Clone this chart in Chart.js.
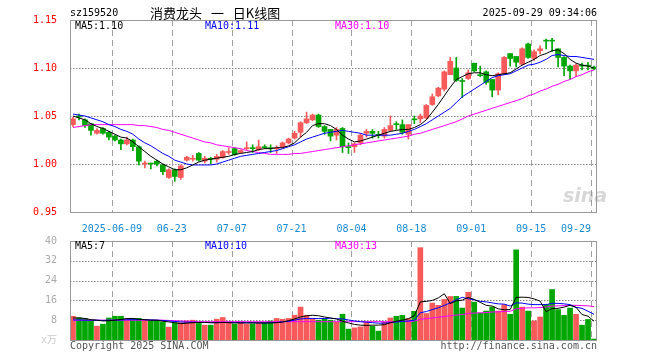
<!DOCTYPE html>
<html>
<head>
<meta charset="utf-8">
<script src="https://cdn.jsdelivr.net/npm/chart.js@4.4.1/dist/chart.umd.min.js"></script>
<style>
body { margin: 0; background: #fff; }
#wrap { position: relative; width: 660px; height: 360px; font-family: "DejaVu Sans Mono", monospace; font-size: 10px; }
canvas { position: absolute; left: 0; }
.t { position: absolute; white-space: pre; line-height: 12px; }
</style>
</head>
<body>
<div id="wrap">
  <canvas id="kline" width="660" height="232" style="top:0px"></canvas>
  <canvas id="vol" width="660" height="130" style="top:230px"></canvas>

  <div class="t" style="left:70px;top:7px;color:#000">sz159520</div>
  <div class="t" style="left:150px;top:4px;font-family:'Noto Sans CJK SC';font-size:13px;line-height:18px;word-spacing:6px;color:#000">消费龙头 一 日K线图</div>
  <div class="t" style="right:63px;top:7px;color:#000">2025-09-29 09:34:06</div>

  <div class="t" style="left:75px;top:20px;color:#000">MA5:1.10</div>
  <div class="t" style="left:205px;top:20px;color:#0000ff">MA10:1.11</div>
  <div class="t" style="left:335px;top:20px;color:#ff00ff">MA30:1.10</div>

  <div class="t" style="left:75px;top:240px;color:#000">MA5:7</div>
  <div class="t" style="left:205px;top:240px;color:#0000ff">MA10:10</div>
  <div class="t" style="left:335px;top:240px;color:#ff00ff">MA30:13</div>

  <div class="t" style="left:563px;top:184px;font-family:'DejaVu Sans';font-weight:bold;font-style:italic;font-size:19px;line-height:22px;color:rgba(140,140,140,0.35)">sina</div>

  <div class="t" style="left:70px;top:340px;color:#555">Copyright 2025 SINA.COM</div>
  <div class="t" style="right:63px;top:340px;color:#555">http://finance.sina.com.cn</div>
</div>

<script>
// trading days shown
var dates = [
  '2025-05-28','2025-05-29','2025-05-30','2025-06-03','2025-06-04','2025-06-05','2025-06-06',
  '2025-06-09','2025-06-10','2025-06-11','2025-06-12','2025-06-13',
  '2025-06-16','2025-06-17','2025-06-18','2025-06-19','2025-06-20',
  '2025-06-23','2025-06-24','2025-06-25','2025-06-26','2025-06-27',
  '2025-06-30','2025-07-01','2025-07-02','2025-07-03','2025-07-04',
  '2025-07-07','2025-07-08','2025-07-09','2025-07-10','2025-07-11',
  '2025-07-14','2025-07-15','2025-07-16','2025-07-17','2025-07-18',
  '2025-07-21','2025-07-22','2025-07-23','2025-07-24','2025-07-25',
  '2025-07-28','2025-07-29','2025-07-30','2025-07-31','2025-08-01',
  '2025-08-04','2025-08-05','2025-08-06','2025-08-07','2025-08-08',
  '2025-08-11','2025-08-12','2025-08-13','2025-08-14','2025-08-15',
  '2025-08-18','2025-08-19','2025-08-20','2025-08-21','2025-08-22',
  '2025-08-25','2025-08-26','2025-08-27','2025-08-28','2025-08-29',
  '2025-09-01','2025-09-02','2025-09-03','2025-09-04','2025-09-05',
  '2025-09-08','2025-09-09','2025-09-10','2025-09-11','2025-09-12',
  '2025-09-15','2025-09-16','2025-09-17','2025-09-18','2025-09-19',
  '2025-09-22','2025-09-23','2025-09-24','2025-09-25','2025-09-26',
  '2025-09-29'
];
var tickDays = ['2025-06-09','2025-06-23','2025-07-07','2025-07-21','2025-08-04',
                '2025-08-18','2025-09-01','2025-09-15','2025-09-29'];

var open = [
  1.041,1.050,1.046,1.042,1.032,1.037,1.033,1.029,1.025,1.021,
  1.025,1.018,1.000,1.001,1.003,0.999,0.986,0.994,0.986,1.004,
  1.005,1.011,1.003,1.006,1.005,1.007,1.012,1.016,1.012,1.016,
  1.017,1.015,1.018,1.017,1.016,1.018,1.022,1.027,1.033,1.043,
  1.046,1.051,1.039,1.036,1.030,1.037,1.018,1.018,1.022,1.032,
  1.034,1.031,1.029,1.035,1.042,1.041,1.031,1.047,1.047,1.048,
  1.062,1.071,1.078,1.093,1.100,1.087,1.089,1.105,1.093,1.096,
  1.088,1.077,1.094,1.115,1.112,1.104,1.125,1.110,1.118,1.129,
  1.129,1.120,1.111,1.102,1.097,1.103,1.103,1.101
];
var high = [
  1.049,1.052,1.047,1.042,1.037,1.038,1.034,1.030,1.026,1.028,
  1.026,1.019,1.003,1.001,1.004,1.000,0.995,0.995,0.999,1.008,
  1.009,1.012,1.008,1.007,1.010,1.014,1.017,1.017,1.015,1.023,
  1.020,1.025,1.020,1.020,1.019,1.023,1.027,1.034,1.044,1.054,
  1.052,1.052,1.040,1.036,1.038,1.038,1.022,1.022,1.032,1.036,
  1.036,1.034,1.038,1.050,1.044,1.046,1.041,1.050,1.052,1.062,
  1.073,1.080,1.097,1.111,1.111,1.089,1.098,1.105,1.102,1.097,
  1.088,1.095,1.112,1.115,1.112,1.121,1.126,1.119,1.123,1.130,
  1.131,1.120,1.112,1.103,1.104,1.105,1.106,1.102
];
var low = [
  1.039,1.046,1.038,1.030,1.031,1.031,1.025,1.024,1.015,1.020,
  1.014,0.999,0.996,0.995,0.998,0.989,0.985,0.982,0.984,1.003,
  1.003,1.003,1.001,1.000,1.002,1.006,1.010,1.009,1.011,1.015,
  1.012,1.014,1.016,1.012,1.011,1.017,1.021,1.026,1.028,1.042,
  1.045,1.038,1.031,1.024,1.025,1.012,1.011,1.012,1.020,1.028,
  1.027,1.027,1.027,1.034,1.036,1.031,1.026,1.042,1.043,1.047,
  1.061,1.070,1.076,1.093,1.086,1.069,1.088,1.096,1.091,1.083,
  1.070,1.072,1.093,1.102,1.101,1.103,1.110,1.108,1.115,1.120,
  1.117,1.101,1.092,1.088,1.091,1.098,1.098,1.098
];
var close = [
  1.047,1.049,1.040,1.035,1.035,1.032,1.028,1.025,1.021,1.025,
  1.018,1.003,1.001,1.000,1.000,0.992,0.994,0.987,0.998,1.007,
  1.006,1.004,1.006,1.005,1.008,1.013,1.013,1.010,1.014,1.017,
  1.016,1.018,1.017,1.016,1.017,1.022,1.026,1.032,1.043,1.047,
  1.051,1.039,1.034,1.029,1.036,1.018,1.017,1.021,1.030,1.034,
  1.032,1.030,1.036,1.040,1.041,1.033,1.041,1.046,1.050,1.061,
  1.070,1.079,1.096,1.107,1.087,1.086,1.095,1.097,1.092,1.085,
  1.077,1.094,1.111,1.110,1.106,1.120,1.111,1.117,1.120,1.128,
  1.128,1.111,1.102,1.097,1.103,1.102,1.102,1.099
];

// moving averages
var ma5 = [
  1.050,1.048,1.046,1.042,1.039,1.037,1.034,1.031,1.028,1.027,
  1.023,1.018,1.013,1.008,1.004,1.000,0.997,0.994,0.994,0.996,
  0.999,1.002,1.004,1.005,1.006,1.007,1.008,1.010,1.011,1.012,
  1.013,1.015,1.016,1.016,1.017,1.017,1.019,1.022,1.028,1.033,
  1.040,1.042,1.042,1.040,1.036,1.030,1.026,1.023,1.024,1.026,
  1.028,1.030,1.032,1.034,1.035,1.036,1.036,1.038,1.041,1.046,
  1.054,1.062,1.071,1.080,1.088,1.091,1.094,1.095,1.095,1.093,
  1.092,1.093,1.094,1.095,1.099,1.103,1.106,1.109,1.113,1.115,
  1.118,1.119,1.115,1.109,1.105,1.103,1.102,1.100
];
var ma10 = [
  1.052,1.051,1.050,1.048,1.046,1.044,1.041,1.039,1.036,1.034,
  1.031,1.026,1.022,1.019,1.015,1.011,1.008,1.004,1.002,1.000,
  0.999,0.999,0.999,0.999,1.000,1.002,1.004,1.006,1.008,1.009,
  1.010,1.011,1.012,1.013,1.014,1.016,1.018,1.020,1.023,1.026,
  1.028,1.030,1.032,1.033,1.034,1.035,1.034,1.033,1.032,1.030,
  1.030,1.030,1.030,1.030,1.031,1.032,1.034,1.036,1.039,1.042,
  1.046,1.050,1.054,1.058,1.064,1.070,1.074,1.078,1.082,1.086,
  1.090,1.092,1.093,1.094,1.097,1.100,1.103,1.104,1.106,1.109,
  1.113,1.114,1.113,1.112,1.112,1.111,1.110,1.109
];
var ma30 = [
  1.038,1.039,1.040,1.041,1.041,1.041,1.041,1.041,1.041,1.041,
  1.041,1.040,1.040,1.039,1.038,1.036,1.035,1.033,1.031,1.029,
  1.027,1.025,1.023,1.022,1.020,1.019,1.018,1.017,1.016,1.014,
  1.013,1.012,1.011,1.010,1.010,1.010,1.010,1.011,1.011,1.012,
  1.013,1.014,1.015,1.016,1.017,1.018,1.019,1.020,1.021,1.022,
  1.023,1.024,1.025,1.026,1.027,1.028,1.029,1.031,1.032,1.034,
  1.036,1.038,1.040,1.042,1.044,1.047,1.050,1.052,1.054,1.056,
  1.058,1.060,1.062,1.064,1.066,1.068,1.071,1.073,1.076,1.078,
  1.081,1.083,1.086,1.088,1.091,1.093,1.096,1.098
];

// volume, x万
var volume = [
  9.6,9.0,8.7,7.7,5.6,6.4,8.9,9.6,9.6,8.3,
  8.7,8.7,8.0,8.0,8.0,7.3,5.2,7.0,7.0,7.7,
  8.0,6.7,6.0,6.0,8.4,9.1,7.3,6.4,7.3,6.4,
  6.5,7.0,7.0,7.7,8.7,8.4,8.7,10.0,13.3,10.0,
  8.7,8.0,8.7,8.0,7.3,10.4,4.4,4.9,5.3,7.3,
  5.6,3.6,7.3,8.9,9.6,10.0,8.7,11.6,37.3,10.7,
  14.9,14.0,16.4,17.6,17.6,12.9,19.3,15.3,10.9,11.7,
  13.3,11.7,14.3,10.4,36.4,13.3,11.7,7.7,9.3,14.4,
  20.4,12.3,10.0,12.9,10.4,6.0,8.3,0.4
];
var vma5 = [
  8.9,8.9,8.7,8.2,8.0,7.7,7.8,8.0,8.3,8.7,
  8.7,8.4,8.2,8.0,8.0,7.6,7.3,7.0,6.6,6.8,
  7.0,7.1,7.1,7.0,7.0,7.1,7.0,6.9,6.9,6.9,
  6.9,6.9,6.9,6.9,7.0,7.3,7.8,8.5,9.3,9.8,
  10.0,9.8,9.3,8.9,8.5,7.6,6.9,6.3,6.0,5.9,
  6.0,6.0,6.2,7.0,7.6,8.0,8.6,9.8,15.4,15.6,
  16.0,17.0,18.7,14.7,15.8,16.1,17.2,16.4,15.2,14.0,
  13.7,12.6,12.2,12.3,17.2,17.3,17.2,16.6,15.7,11.4,
  12.7,12.8,13.3,14.0,13.2,10.3,9.6,7.6
];
var vma10 = [
  8.1,8.1,8.0,8.0,8.0,7.9,8.0,8.0,8.1,8.2,
  8.2,8.2,8.2,8.1,8.0,7.9,7.7,7.5,7.3,7.2,
  7.2,7.1,7.1,7.0,7.0,7.1,7.1,7.1,7.0,7.0,
  7.0,6.9,6.9,7.0,7.1,7.3,7.6,8.0,8.5,8.7,
  8.7,8.7,8.7,8.8,8.6,8.5,8.1,7.7,7.4,7.2,
  7.0,6.8,6.8,7.0,7.3,7.5,7.7,8.0,11.0,11.5,
  12.3,13.0,14.0,15.0,16.3,17.2,16.7,16.2,15.6,15.4,
  15.0,14.6,14.5,13.7,15.0,14.9,14.5,14.3,14.3,14.3,
  14.8,14.8,14.6,14.3,13.2,12.8,11.6,10.4
];
var vma30 = [
  8.0,8.0,8.0,8.0,8.0,8.0,8.0,8.0,8.0,8.0,
  8.0,8.0,8.0,8.0,8.0,8.0,7.9,7.8,7.7,7.6,
  7.5,7.4,7.4,7.4,7.4,7.4,7.4,7.4,7.4,7.4,
  7.4,7.4,7.4,7.4,7.4,7.4,7.4,7.4,7.4,7.4,
  7.4,7.4,7.4,7.4,7.4,7.4,7.4,7.4,7.4,7.4,
  7.4,7.4,7.4,7.4,7.4,7.5,7.5,7.6,8.4,8.6,
  8.9,9.2,9.5,9.8,10.1,10.3,10.7,10.9,11.0,11.1,
  11.3,11.4,11.5,11.6,12.6,12.8,13.0,13.0,13.1,13.3,
  13.7,13.8,13.9,14.0,14.0,13.9,13.8,13.5
];

var UP = '#f75a5a', DOWN = '#00a600';
var colors = close.map(function (c, i) { return c >= open[i] ? UP : DOWN; });

Chart.defaults.font.family = '"DejaVu Sans Mono", "Noto Sans CJK SC", monospace';
Chart.defaults.font.size = 10;

// frame plus dashed date lines and dotted level lines, drawn with paths behind the marks
function gridFrame(levels) {
  return {
    id: 'gridFrame',
    afterDraw: function (chart) {
      var a = chart.chartArea, ctx = chart.ctx, xs = chart.scales.x, ys = chart.scales.y;
      var half = (xs.getPixelForValue(1) - xs.getPixelForValue(0)) / 2;
      var top = Math.round(a.top), bottom = Math.round(a.bottom);
      var left = Math.round(a.left), right = Math.round(a.right);
      var i, y, x;
      ctx.save();
      ctx.globalCompositeOperation = 'destination-over';
      ctx.lineWidth = 1;
      ctx.strokeStyle = '#a0a0a0';
      ctx.beginPath();
      for (i = 0; i < dates.length; i++) {
        if (tickDays.indexOf(dates[i]) < 0) continue;
        x = Math.round(xs.getPixelForValue(i) - half) + 0.5;
        for (y = top; y < bottom; y += 10) {
          ctx.moveTo(x, y);
          ctx.lineTo(x, Math.min(y + 6, bottom));
        }
      }
      ctx.stroke();
      ctx.strokeStyle = '#888888';
      ctx.beginPath();
      for (i = 0; i < levels.length; i++) {
        y = Math.round(ys.getPixelForValue(levels[i])) + 0.5;
        for (x = left; x < right; x += 3) {
          ctx.moveTo(x, y);
          ctx.lineTo(x + 1.5, y);
        }
      }
      ctx.stroke();
      ctx.globalCompositeOperation = 'source-over';
      ctx.strokeStyle = '#999';
      ctx.strokeRect(left + 0.5, top + 0.5, right - left - 1, bottom - top);
      ctx.restore();
    }
  };
}

function xAxis(showLabels) {
  return {
    offset: true,
    grid: { display: false },
    border: { display: false },
    ticks: {
      display: showLabels,
      autoSkip: false,
      maxRotation: 0,
      padding: 3,
      labelOffset: -3,
      color: '#1a8ad4',
      callback: function (v, i) {
        var d = dates[i];
        if (tickDays.indexOf(d) < 0) return '';
        if (d === tickDays[0]) return d;
        if (i === dates.length - 1) return d.slice(5) + '     ';
        return d.slice(5);
      }
    },
    afterFit: function (s) { s.height = showLabels ? 20 : 0; }
  };
}

function line(data, color) {
  return { type: 'line', data: data, borderColor: color, borderWidth: 1, pointRadius: 0, fill: false, order: 0 };
}

new Chart(document.getElementById('kline'), {
  type: 'bar',
  data: {
    labels: dates,
    datasets: [
      { data: low.map(function (l, i) { return [l, high[i]]; }), backgroundColor: colors,
        barThickness: 1, grouped: false, order: 2 },
      { data: open.map(function (o, i) { return [o, close[i]]; }), backgroundColor: colors,
        barThickness: 5, grouped: false, order: 1 },
      line(ma5, '#000000'),
      line(ma10, '#0000ff'),
      line(ma30, '#ff00ff')
    ]
  },
  options: {
    responsive: false,
    animation: false,
    devicePixelRatio: 1,
    layout: { padding: { top: 20, right: 63, bottom: 0, left: 0 } },
    plugins: { legend: { display: false }, tooltip: { enabled: false } },
    scales: {
      x: xAxis(true),
      y: {
        min: 0.95, max: 1.15,
        ticks: { stepSize: 0.05, color: '#ff0000', padding: 5,
                 callback: function (v) { return v.toFixed(2); } },
        grid: { display: false },
        border: { display: false },
        afterFit: function (s) { s.width = 70; }
      }
    }
  },
  plugins: [gridFrame([1.00, 1.05, 1.10])]
});

new Chart(document.getElementById('vol'), {
  type: 'bar',
  data: {
    labels: dates,
    datasets: [
      { data: volume, backgroundColor: colors, barThickness: 5, order: 1 },
      line(vma5, '#000000'),
      line(vma10, '#0000ff'),
      line(vma30, '#ff00ff')
    ]
  },
  options: {
    responsive: false,
    animation: false,
    devicePixelRatio: 1,
    layout: { padding: { top: 10, right: 63, bottom: 20, left: 0 } },
    plugins: { legend: { display: false }, tooltip: { enabled: false } },
    scales: {
      x: xAxis(false),
      y: {
        min: 0, max: 40,
        ticks: { stepSize: 8, padding: 5,
                 color: function (c) { return c.tick.value === 0 ? '#ccc' : '#aaa'; },
                 callback: function (v) { return v === 0 ? 'x万' : v; } },
        grid: { display: false },
        border: { display: false },
        afterFit: function (s) { s.width = 70; }
      }
    }
  },
  plugins: [gridFrame([8, 16, 24, 32])]
});
</script>
</body>
</html>
